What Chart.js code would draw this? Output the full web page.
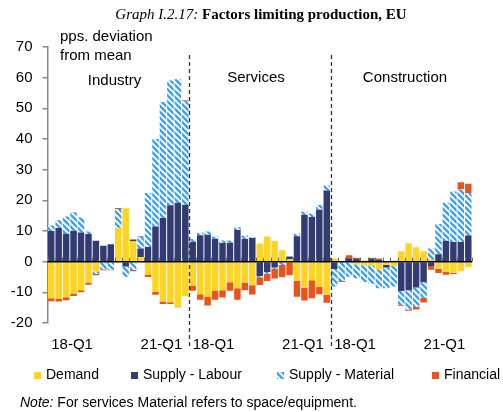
<!DOCTYPE html>
<html>
<head>
<meta charset="utf-8">
<script src="https://cdn.jsdelivr.net/npm/chart.js@4.4.1/dist/chart.umd.min.js"></script>
<style>
  html, body { margin: 0; padding: 0; background: #fff; }
</style>
</head>
<body>
<canvas id="chart" width="503" height="412"></canvas>
<script>
// --- data (pps. deviation from mean) ---
const sectors = ['Industry', 'Services', 'Construction'];
const quarters = ['18-Q1', '18-Q2', '18-Q3', '18-Q4', '19-Q1', '19-Q2', '19-Q3', '19-Q4',
  '20-Q1', '20-Q2', '20-Q3', '20-Q4', '21-Q1', '21-Q2', '21-Q3', '21-Q4', '22-Q1', '22-Q2', '22-Q3'];
const shownTicks = ['18-Q1', '21-Q1'];
const seriesNames = ['Demand', 'Supply - Labour', 'Supply - Material', 'Financial'];

const demandIndustry = [-11.9, -12.2, -11.6, -10.4, -9.3, -6.8, -3.2, -0.3, -0.2, 11.1, 17.4, 6.7, 1.5, -4.2, -9.8, -13.0, -13.2, -14.6, -11.3];
const labourIndustry = [10.0, 11.0, 9.1, 10.1, 9.5, 9.0, 6.8, 5.2, 5.7, 0, -1.6, 0.5, 2.8, 4.8, 11.5, 14.2, 18.4, 19.2, 18.6];
const materialIndustry = [1.8, 2.5, 5.6, 6.0, 4.9, 0.8, -0.8, -2.2, -2.4, 6.1, -3.3, -2.6, 3.8, 17.6, 28.5, 37.9, 40.7, 40.3, 33.7];
const financialIndustry = [-1.0, -0.8, -1.0, -0.8, -0.7, -0.7, -0.4, -0.3, -0.2, 0.3, 0, -0.5, 0.3, -0.8, -1.0, -0.8, -0.6, -0.3, 0.3];

const demandServices = [-7.9, -10.6, -11.5, -9.6, -9.3, -6.7, -8.7, -6.8, -7.7, 5.9, 8.2, 6.7, 3.7, 0.8, -6.2, -8.5, -6.1, -8.2, -10.8];
const labourServices = [6.5, 8.6, 8.8, 7.5, 6.1, 6.2, 10.3, 7.4, 7.7, -4.7, -3.4, -1.9, -0.3, 0.9, 8.3, 15.3, 14.6, 16.9, 23.2];
const materialServices = [0.9, 0.8, 1.0, 0.7, 0.8, 0.7, 0.9, 1.1, 0.3, -0.4, -0.5, -0.4, -0.8, 0, 0.8, 1.0, 1.1, 1.6, 1.6];
const financialServices = [-1.6, -1.8, -2.8, -2.8, -2.4, -2.8, -3.7, -2.5, -3.0, -2.5, -2.4, -3.2, -4.0, -4.4, -5.2, -4.2, -5.8, -2.4, -2.6];

const demandConstruction = [1.0, 0, 0, -0.9, -1.2, -1.4, -2.6, -1.1, -1.4, 3.4, 6.0, 4.7, 3.4, 0.6, -2.3, -3.4, -3.6, -3.1, -1.8];
const labourConstruction = [-2.4, 0, 1.1, 0.9, 0, 1.0, 0.7, -0.8, 0, -9.6, -9.3, -8.4, -6.7, -1.4, 2.4, 6.8, 6.4, 6.4, 8.5];
const materialConstruction = [-5.7, -6.3, -4.9, -4.5, -5.4, -5.8, -6.1, -6.8, -6.7, -4.5, -6.3, -6.3, -5.1, 3.7, 9.9, 12.4, 16.5, 17.1, 13.8];
const financialConstruction = [0, -0.3, 1.0, 0.4, 0.3, 0.3, 0.3, 0, 0.3, -0.3, -0.4, -0.9, -1.5, -1.2, -1.4, -0.9, -0.4, 2.4, 3.1];

// one category per sector/quarter, panels side by side
const labels = sectors.flatMap(() => quarters);
const demand = [...demandIndustry, ...demandServices, ...demandConstruction];
const labour = [...labourIndustry, ...labourServices, ...labourConstruction];
const material = [...materialIndustry, ...materialServices, ...materialConstruction];
const financial = [...financialIndustry, ...financialServices, ...financialConstruction];

const FONT = 'Liberation Sans, Arial, sans-serif';
const SERIF = 'Liberation Serif, Times New Roman, serif';

const ctx = document.getElementById('chart').getContext('2d');

// hatched fill for "Supply - Material"
function makeStripes() {
    const c = document.createElement('canvas');
    c.width = 6;
    c.height = 6;
    const g = c.getContext('2d');
    g.fillStyle = '#ffffff';
    g.fillRect(0, 0, 6, 6);
    g.strokeStyle = '#3d9ef2';
    g.lineWidth = 2.3;
    g.beginPath();
    for (let k = -6; k <= 6; k += 6) {
        g.moveTo(k - 1, -1);
        g.lineTo(k + 7, 7);
    }
    g.stroke();
    return ctx.createPattern(c, 'repeat');
}

const decor = {
    id: 'decor',
    afterDatasetsDraw(chart) {
        const {ctx, chartArea: a, scales: {x, y}} = chart;
        const y0 = y.getPixelForValue(0);
        const step = x.getPixelForValue(1) - x.getPixelForValue(0);
        ctx.save();
        // small ticks on the zero line at each category boundary
        ctx.strokeStyle = '#666';
        ctx.lineWidth = 1;
        for (let i = 0; i <= labels.length; i++) {
            const xb = Math.round(x.getPixelForValue(0) - step / 2 + i * step) + 0.5;
            ctx.beginPath();
            ctx.moveTo(xb, y0 - 4);
            ctx.lineTo(xb, y0);
            ctx.stroke();
        }
        // zero line
        ctx.strokeStyle = '#000';
        ctx.lineWidth = 1.5;
        ctx.beginPath();
        ctx.moveTo(a.left, y0);
        ctx.lineTo(a.right, y0);
        ctx.stroke();
        // dashed separators between sectors
        ctx.strokeStyle = '#333';
        ctx.lineWidth = 1.3;
        ctx.setLineDash([4, 3]);
        for (let s = 1; s < sectors.length; s++) {
            const xs = Math.round(x.getPixelForValue(s * quarters.length) - step / 2) + 0.5;
            ctx.beginPath();
            ctx.moveTo(xs, 55);
            ctx.lineTo(xs, 348);
            ctx.stroke();
        }
        ctx.restore();
    },
    afterDraw(chart) {
        const {ctx, scales: {x}} = chart;
        ctx.save();
        ctx.fillStyle = '#000';
        ctx.textBaseline = 'middle';

        // title: italic part + bold part
        const t1 = 'Graph I.2.17: ';
        const t2 = 'Factors limiting production, EU';
        ctx.font = 'italic 15px ' + SERIF;
        const w1 = ctx.measureText(t1).width;
        ctx.font = 'bold 15px ' + SERIF;
        const w2 = ctx.measureText(t2).width;
        const tx = 261 - (w1 + w2) / 2;
        ctx.textAlign = 'left';
        ctx.font = 'italic 15px ' + SERIF;
        ctx.fillText(t1, tx, 15);
        ctx.font = 'bold 15px ' + SERIF;
        ctx.fillText(t2, tx + w1, 15);

        // unit
        ctx.font = '15px ' + FONT;
        ctx.fillText('pps. deviation', 60, 37);
        ctx.fillText('from mean', 60, 56);

        // sector names
        ctx.textAlign = 'center';
        const namePos = [8.5, 27.5, 47.5];
        const nameY = [81, 78, 78];
        sectors.forEach((s, i) => {
            ctx.fillText(s, x.getPixelForValue(namePos[i]), nameY[i]);
        });

        // legend, one row, swatches use the dataset fills
        ctx.textAlign = 'left';
        ctx.font = '14px ' + FONT;
        const legendX = [34, 131, 277, 432];
        chart.data.datasets.forEach((ds, i) => {
            ctx.fillStyle = ds.backgroundColor;
            ctx.fillRect(legendX[i], 372, 7, 7);
            ctx.fillStyle = '#000';
            ctx.fillText(ds.label, legendX[i] + 12, 375.5);
        });

        // note
        ctx.font = 'italic 14px ' + FONT;
        const n1 = 'Note:';
        ctx.fillText(n1, 20, 403);
        const nw = ctx.measureText(n1 + ' ').width;
        ctx.font = '14px ' + FONT;
        ctx.fillText('For services Material refers to space/equipment.', 20 + nw, 403);
        ctx.restore();
    }
};

new Chart(ctx, {
    type: 'bar',
    data: {
        labels: labels,
        datasets: [
            {label: seriesNames[0], data: demand, backgroundColor: '#ffd424'},
            {label: seriesNames[1], data: labour, backgroundColor: '#333c72'},
            {label: seriesNames[2], data: material, backgroundColor: makeStripes()},
            {label: seriesNames[3], data: financial, backgroundColor: '#e9531e'},
        ],
    },
    options: {
        responsive: false,
        animation: false,
        devicePixelRatio: 1,
        layout: {padding: {left: 0, right: 31, top: 47, bottom: 59}},
        datasets: {bar: {categoryPercentage: 1, barPercentage: 0.87}},
        scales: {
            x: {
                stacked: true,
                grid: {display: false},
                border: {display: false},
                ticks: {
                    autoSkip: false,
                    maxRotation: 0,
                    align: 'start',
                    padding: 5,
                    color: '#000',
                    font: {family: FONT, size: 15},
                    callback: function (value) {
                        const lab = this.getLabelForValue(value);
                        return shownTicks.includes(lab) ? lab : '';
                    },
                },
                afterFit: (s) => { s.height = 30; },
            },
            y: {
                stacked: true,
                min: -20,
                max: 70,
                ticks: {stepSize: 10, padding: 10, color: '#000', font: {family: FONT, size: 15}},
                grid: {drawOnChartArea: false, tickLength: 5, color: '#888', lineWidth: 1.5},
                border: {color: '#888', width: 1.5},
                afterFit: (s) => { s.width = 47.5; },
            },
        },
        plugins: {
            legend: {display: false},
            tooltip: {enabled: false},
        },
    },
    plugins: [decor],
});
</script>
</body>
</html>
